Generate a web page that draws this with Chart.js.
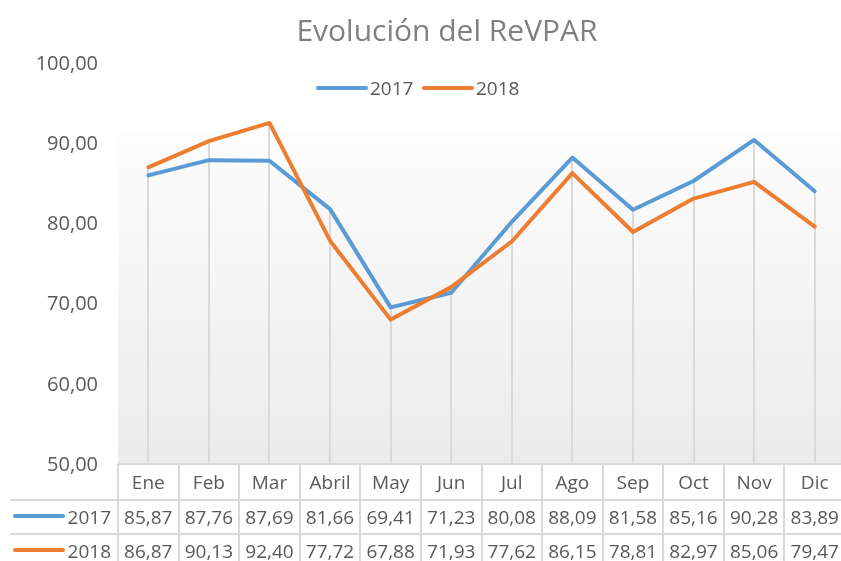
<!DOCTYPE html>
<html>
<head>
<meta charset="utf-8">
<script src="https://cdn.jsdelivr.net/npm/chart.js@4/dist/chart.umd.min.js"></script>
<style>
  body { margin: 0; background: #fff; }
  #wrap { width: 841px; height: 561px; overflow: hidden; }
</style>
</head>
<body>
<div id="wrap"><canvas id="revpar" width="845" height="561"></canvas></div>
<script>
const months = ['Ene', 'Feb', 'Mar', 'Abril', 'May', 'Jun', 'Jul', 'Ago', 'Sep', 'Oct', 'Nov', 'Dic'];
const revpar2017 = [85.87, 87.76, 87.69, 81.66, 69.41, 71.23, 80.08, 88.09, 81.58, 85.16, 90.28, 83.89];
const revpar2018 = [86.87, 90.13, 92.40, 77.72, 67.88, 71.93, 77.62, 86.15, 78.81, 82.97, 85.06, 79.47];
const seriesNames = ['2017', '2018'];
const seriesColors = ['#5B9BD5', '#ED7D31'];

const textGray = '#595959';
const gridGray = '#d9d9d9';
const fontFam = '"Open Sans", sans-serif';

function fmt(v) {
    return v.toFixed(2).replace('.', ',');
}

// background, drop lines, title, legend and data table, excel style
const excelBits = {
    id: 'excelBits',
    beforeDatasetsDraw(chart) {
        const ctx = chart.ctx;
        const area = chart.chartArea;
        const xs = chart.scales.x;
        const ys = chart.scales.y;
        ctx.save();
        const top = area.top + 68;
        const grad = ctx.createLinearGradient(0, top, 0, area.bottom);
        grad.addColorStop(0, '#fdfdfd');
        grad.addColorStop(1, '#ebebeb');
        ctx.fillStyle = grad;
        ctx.fillRect(area.left, top, area.right - area.left, area.bottom - top);

        ctx.strokeStyle = gridGray;
        ctx.lineWidth = 2;
        months.forEach((m, i) => {
            const px = Math.round(xs.getPixelForValue(i));
            const hi = Math.max(revpar2017[i], revpar2018[i]);
            ctx.beginPath();
            ctx.moveTo(px, ys.getPixelForValue(hi));
            ctx.lineTo(px, area.bottom);
            ctx.stroke();
        });
        ctx.restore();
    },
    afterDraw(chart) {
        const ctx = chart.ctx;
        const area = chart.chartArea;
        const xs = chart.scales.x;
        ctx.save();

        // title
        ctx.fillStyle = '#808080';
        ctx.font = '30px ' + fontFam;
        ctx.textAlign = 'center';
        ctx.textBaseline = 'middle';
        ctx.fillText('Evolución del ReVPAR', 447, 32);

        // legend
        ctx.font = '19px ' + fontFam;
        ctx.textAlign = 'left';
        ctx.lineCap = 'round';
        ctx.lineWidth = 4;
        const legX = [318, 424];
        seriesNames.forEach((name, k) => {
            ctx.strokeStyle = seriesColors[k];
            ctx.beginPath();
            ctx.moveTo(legX[k], 88);
            ctx.lineTo(legX[k] + 48, 88);
            ctx.stroke();
            ctx.fillStyle = textGray;
            ctx.fillText(name, legX[k] + 52, 90);
        });

        // data table
        const step = xs.getPixelForValue(1) - xs.getPixelForValue(0);
        const left = xs.getPixelForValue(0) - step / 2;
        const right = chart.width + 10;
        const rowTop = [area.bottom + 1, 500, 534];
        const rowBottom = 575;

        ctx.strokeStyle = gridGray;
        ctx.lineWidth = 2;
        ctx.lineCap = 'butt';
        ctx.beginPath();
        ctx.moveTo(left, rowTop[0]);
        ctx.lineTo(right, rowTop[0]);
        ctx.moveTo(10, rowTop[1]);
        ctx.lineTo(right, rowTop[1]);
        ctx.moveTo(10, rowTop[2]);
        ctx.lineTo(right, rowTop[2]);
        for (let i = 0; i <= months.length; i++) {
            const ex = Math.round(left + i * step);
            ctx.moveTo(ex, rowTop[0]);
            ctx.lineTo(ex, rowBottom);
        }
        ctx.stroke();

        ctx.fillStyle = textGray;
        ctx.font = '19px ' + fontFam;
        ctx.textAlign = 'center';
        const rowMid = [484, 519, 553];
        const rows = [revpar2017, revpar2018];
        months.forEach((m, i) => {
            const cx = xs.getPixelForValue(i);
            ctx.fillText(m, cx, rowMid[0]);
            rows.forEach((r, k) => {
                ctx.fillText(fmt(r[i]), cx, rowMid[k + 1]);
            });
        });

        // legend keys in table
        ctx.lineWidth = 4;
        ctx.lineCap = 'round';
        seriesNames.forEach((name, k) => {
            const y = rowMid[k + 1];
            ctx.strokeStyle = seriesColors[k];
            ctx.beginPath();
            ctx.moveTo(15, y - 3);
            ctx.lineTo(63, y - 3);
            ctx.stroke();
            ctx.textAlign = 'right';
            ctx.fillStyle = textGray;
            ctx.fillText(name, 111, y);
        });

        ctx.restore();
    }
};

const ctx = document.getElementById('revpar').getContext('2d');
new Chart(ctx, {
    type: 'line',
    data: {
        labels: months,
        datasets: [{
            label: seriesNames[0],
            data: revpar2017,
            borderColor: seriesColors[0],
            backgroundColor: seriesColors[0],
            borderWidth: 4,
            pointRadius: 0,
            tension: 0,
            order: 2
        }, {
            label: seriesNames[1],
            data: revpar2018,
            borderColor: seriesColors[1],
            backgroundColor: seriesColors[1],
            borderWidth: 4,
            pointRadius: 0,
            tension: 0,
            order: 1
        }]
    },
    options: {
        responsive: false,
        animation: false,
        events: [],
        layout: {
            padding: { top: 62, bottom: 98, left: 0, right: 0 }
        },
        elements: {
            line: { borderJoinStyle: 'round', borderCapStyle: 'round' }
        },
        plugins: {
            legend: { display: false },
            title: { display: false },
            tooltip: { enabled: false }
        },
        scales: {
            x: {
                display: false,
                offset: true
            },
            y: {
                min: 50,
                max: 100,
                afterFit(scale) { scale.width = 118; },
                grid: { display: false, drawTicks: false },
                border: { display: false },
                ticks: {
                    stepSize: 10,
                    padding: 20,
                    labelOffset: 2,
                    color: textGray,
                    font: { family: fontFam, size: 20 },
                    callback: v => fmt(v)
                }
            }
        }
    },
    plugins: [excelBits]
});
</script>
</body>
</html>
